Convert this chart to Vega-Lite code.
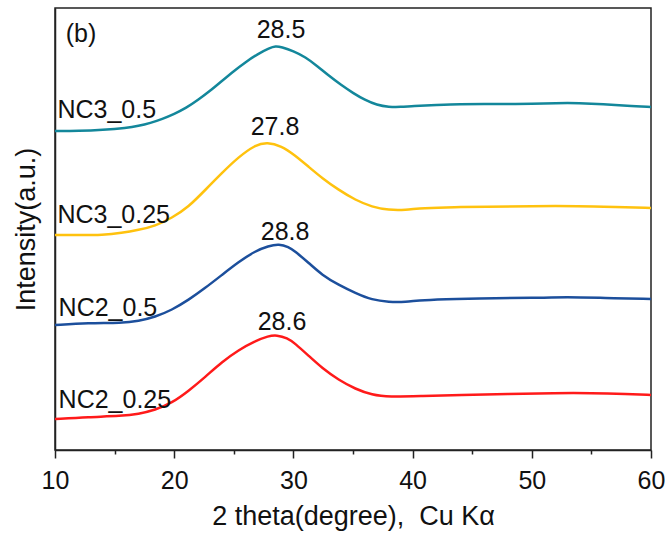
{
  "$schema": "https://vega.github.io/schema/vega-lite/v6.json",
  "width": 596,
  "height": 442,
  "autosize": "none",
  "padding": {"left": 55, "top": 8, "right": 14, "bottom": 89},
  "background": "white",
  "config": {
    "view": {"stroke": "#222", "strokeWidth": 1.5},
    "font": "Liberation Sans"
  },
  "datasets": {
    "curves": [
      {"series": "NC3_0.5", "theta": 10, "intensity": 319},
      {"series": "NC3_0.5", "theta": 12, "intensity": 319},
      {"series": "NC3_0.5", "theta": 14, "intensity": 320},
      {"series": "NC3_0.5", "theta": 16, "intensity": 322},
      {"series": "NC3_0.5", "theta": 17, "intensity": 324},
      {"series": "NC3_0.5", "theta": 18, "intensity": 327},
      {"series": "NC3_0.5", "theta": 19, "intensity": 331},
      {"series": "NC3_0.5", "theta": 20, "intensity": 336},
      {"series": "NC3_0.5", "theta": 21, "intensity": 342},
      {"series": "NC3_0.5", "theta": 22, "intensity": 350},
      {"series": "NC3_0.5", "theta": 23, "intensity": 359},
      {"series": "NC3_0.5", "theta": 24, "intensity": 369},
      {"series": "NC3_0.5", "theta": 25, "intensity": 379},
      {"series": "NC3_0.5", "theta": 26, "intensity": 388},
      {"series": "NC3_0.5", "theta": 27, "intensity": 396},
      {"series": "NC3_0.5", "theta": 28, "intensity": 402},
      {"series": "NC3_0.5", "theta": 28.5, "intensity": 404},
      {"series": "NC3_0.5", "theta": 29, "intensity": 403},
      {"series": "NC3_0.5", "theta": 30, "intensity": 399},
      {"series": "NC3_0.5", "theta": 31, "intensity": 393},
      {"series": "NC3_0.5", "theta": 32, "intensity": 384},
      {"series": "NC3_0.5", "theta": 33, "intensity": 374},
      {"series": "NC3_0.5", "theta": 34, "intensity": 365},
      {"series": "NC3_0.5", "theta": 35, "intensity": 357},
      {"series": "NC3_0.5", "theta": 36, "intensity": 350},
      {"series": "NC3_0.5", "theta": 37, "intensity": 345},
      {"series": "NC3_0.5", "theta": 38, "intensity": 343},
      {"series": "NC3_0.5", "theta": 39, "intensity": 343},
      {"series": "NC3_0.5", "theta": 40, "intensity": 344},
      {"series": "NC3_0.5", "theta": 42, "intensity": 345},
      {"series": "NC3_0.5", "theta": 44, "intensity": 346},
      {"series": "NC3_0.5", "theta": 46, "intensity": 346},
      {"series": "NC3_0.5", "theta": 48, "intensity": 346},
      {"series": "NC3_0.5", "theta": 50, "intensity": 346},
      {"series": "NC3_0.5", "theta": 52, "intensity": 347},
      {"series": "NC3_0.5", "theta": 54, "intensity": 347},
      {"series": "NC3_0.5", "theta": 56, "intensity": 346},
      {"series": "NC3_0.5", "theta": 58, "intensity": 344},
      {"series": "NC3_0.5", "theta": 60, "intensity": 343},

      {"series": "NC3_0.25", "theta": 10, "intensity": 215},
      {"series": "NC3_0.25", "theta": 12, "intensity": 215},
      {"series": "NC3_0.25", "theta": 14, "intensity": 215},
      {"series": "NC3_0.25", "theta": 15.6, "intensity": 217},
      {"series": "NC3_0.25", "theta": 17, "intensity": 220},
      {"series": "NC3_0.25", "theta": 18.4, "intensity": 224},
      {"series": "NC3_0.25", "theta": 19.8, "intensity": 232},
      {"series": "NC3_0.25", "theta": 21.2, "intensity": 243},
      {"series": "NC3_0.25", "theta": 22.6, "intensity": 260},
      {"series": "NC3_0.25", "theta": 24, "intensity": 277},
      {"series": "NC3_0.25", "theta": 25.4, "intensity": 293},
      {"series": "NC3_0.25", "theta": 26.8, "intensity": 305},
      {"series": "NC3_0.25", "theta": 27.8, "intensity": 308},
      {"series": "NC3_0.25", "theta": 29, "intensity": 304},
      {"series": "NC3_0.25", "theta": 30.1, "intensity": 295},
      {"series": "NC3_0.25", "theta": 31.3, "intensity": 283},
      {"series": "NC3_0.25", "theta": 32.4, "intensity": 272},
      {"series": "NC3_0.25", "theta": 33.8, "intensity": 260},
      {"series": "NC3_0.25", "theta": 35.2, "intensity": 250},
      {"series": "NC3_0.25", "theta": 36.6, "intensity": 243},
      {"series": "NC3_0.25", "theta": 38, "intensity": 240},
      {"series": "NC3_0.25", "theta": 39.4, "intensity": 240},
      {"series": "NC3_0.25", "theta": 40.8, "intensity": 242},
      {"series": "NC3_0.25", "theta": 43.6, "intensity": 243},
      {"series": "NC3_0.25", "theta": 46, "intensity": 243},
      {"series": "NC3_0.25", "theta": 50, "intensity": 244},
      {"series": "NC3_0.25", "theta": 54, "intensity": 244},
      {"series": "NC3_0.25", "theta": 57, "intensity": 243},
      {"series": "NC3_0.25", "theta": 60, "intensity": 242},

      {"series": "NC2_0.5", "theta": 10, "intensity": 125},
      {"series": "NC2_0.5", "theta": 12.8, "intensity": 127},
      {"series": "NC2_0.5", "theta": 15.6, "intensity": 127},
      {"series": "NC2_0.5", "theta": 17, "intensity": 129},
      {"series": "NC2_0.5", "theta": 18.4, "intensity": 133},
      {"series": "NC2_0.5", "theta": 19.8, "intensity": 140},
      {"series": "NC2_0.5", "theta": 21.2, "intensity": 150},
      {"series": "NC2_0.5", "theta": 22.6, "intensity": 162},
      {"series": "NC2_0.5", "theta": 24, "intensity": 175},
      {"series": "NC2_0.5", "theta": 25.4, "intensity": 188},
      {"series": "NC2_0.5", "theta": 26.8, "intensity": 199},
      {"series": "NC2_0.5", "theta": 27.9, "intensity": 204},
      {"series": "NC2_0.5", "theta": 28.8, "intensity": 206},
      {"series": "NC2_0.5", "theta": 29.6, "intensity": 203},
      {"series": "NC2_0.5", "theta": 30.1, "intensity": 199},
      {"series": "NC2_0.5", "theta": 31.3, "intensity": 187},
      {"series": "NC2_0.5", "theta": 32.4, "intensity": 175},
      {"series": "NC2_0.5", "theta": 33.8, "intensity": 165},
      {"series": "NC2_0.5", "theta": 35.2, "intensity": 157},
      {"series": "NC2_0.5", "theta": 36.6, "intensity": 150},
      {"series": "NC2_0.5", "theta": 38, "intensity": 148},
      {"series": "NC2_0.5", "theta": 39.4, "intensity": 148},
      {"series": "NC2_0.5", "theta": 40.8, "intensity": 150},
      {"series": "NC2_0.5", "theta": 43.6, "intensity": 151},
      {"series": "NC2_0.5", "theta": 47, "intensity": 152},
      {"series": "NC2_0.5", "theta": 50, "intensity": 152},
      {"series": "NC2_0.5", "theta": 53, "intensity": 153},
      {"series": "NC2_0.5", "theta": 56, "intensity": 152},
      {"series": "NC2_0.5", "theta": 60, "intensity": 151},

      {"series": "NC2_0.25", "theta": 10, "intensity": 31},
      {"series": "NC2_0.25", "theta": 12.8, "intensity": 33},
      {"series": "NC2_0.25", "theta": 15.6, "intensity": 34},
      {"series": "NC2_0.25", "theta": 17, "intensity": 36},
      {"series": "NC2_0.25", "theta": 18.4, "intensity": 40},
      {"series": "NC2_0.25", "theta": 19.8, "intensity": 47},
      {"series": "NC2_0.25", "theta": 21.2, "intensity": 59},
      {"series": "NC2_0.25", "theta": 22.6, "intensity": 73},
      {"series": "NC2_0.25", "theta": 24, "intensity": 88},
      {"series": "NC2_0.25", "theta": 25.4, "intensity": 100},
      {"series": "NC2_0.25", "theta": 26.8, "intensity": 109},
      {"series": "NC2_0.25", "theta": 27.9, "intensity": 114},
      {"series": "NC2_0.25", "theta": 28.6, "intensity": 115},
      {"series": "NC2_0.25", "theta": 29.5, "intensity": 112},
      {"series": "NC2_0.25", "theta": 30.1, "intensity": 107},
      {"series": "NC2_0.25", "theta": 31.3, "intensity": 94},
      {"series": "NC2_0.25", "theta": 32.4, "intensity": 82},
      {"series": "NC2_0.25", "theta": 33.8, "intensity": 70},
      {"series": "NC2_0.25", "theta": 35.2, "intensity": 61},
      {"series": "NC2_0.25", "theta": 36.6, "intensity": 55},
      {"series": "NC2_0.25", "theta": 38, "intensity": 53},
      {"series": "NC2_0.25", "theta": 40.8, "intensity": 54},
      {"series": "NC2_0.25", "theta": 44, "intensity": 55},
      {"series": "NC2_0.25", "theta": 48, "intensity": 56},
      {"series": "NC2_0.25", "theta": 52, "intensity": 57},
      {"series": "NC2_0.25", "theta": 55, "intensity": 57},
      {"series": "NC2_0.25", "theta": 58, "intensity": 56},
      {"series": "NC2_0.25", "theta": 60, "intensity": 55}
    ],
    "names": [
      {"label": "NC3_0.5", "theta": 10.2, "intensity": 340},
      {"label": "NC3_0.25", "theta": 10.2, "intensity": 235},
      {"label": "NC2_0.5", "theta": 10.3, "intensity": 142},
      {"label": "NC2_0.25", "theta": 10.3, "intensity": 50},
      {"label": "(b)", "theta": 10.9, "intensity": 416}
    ],
    "peaks": [
      {"label": "28.5", "theta": 28.96, "intensity": 420},
      {"label": "27.8", "theta": 28.46, "intensity": 323},
      {"label": "28.8", "theta": 29.3, "intensity": 218},
      {"label": "28.6", "theta": 29.04, "intensity": 128}
    ]
  },
  "encoding": {
    "x": {
      "field": "theta",
      "type": "quantitative",
      "scale": {"domain": [10, 60], "nice": false, "zero": false},
      "axis": {
        "title": "2 theta(degree), \u00a0Cu Kα",
        "values": [10, 15, 20, 25, 30, 35, 40, 45, 50, 55, 60],
        "labelExpr": "datum.value % 10 === 0 ? datum.label : ''",
        "tickSize": {"condition": {"test": "datum.value % 10 === 0", "value": 8}, "value": 4},
        "tickColor": "#222",
        "tickWidth": 1.5,
        "domainColor": "#222",
        "domainWidth": 1.5,
        "grid": false,
        "labelFont": "Liberation Sans",
        "labelFontSize": 25,
        "labelColor": "#111",
        "labelPadding": 10,
        "labelFlush": false,
        "titleFont": "Liberation Sans",
        "titleFontSize": 27,
        "titleFontWeight": "normal",
        "titleColor": "#111",
        "titlePadding": 10
      }
    },
    "y": {
      "field": "intensity",
      "type": "quantitative",
      "scale": {"domain": [0, 442], "nice": false},
      "axis": {
        "title": "Intensity(a.u.)",
        "labels": false,
        "ticks": false,
        "grid": false,
        "domainColor": "#222",
        "domainWidth": 1.5,
        "titleFont": "Liberation Sans",
        "titleFontSize": 27,
        "titleFontWeight": "normal",
        "titleColor": "#111",
        "titlePadding": 15
      }
    }
  },
  "layer": [
    {
      "data": {"name": "curves"},
      "mark": {"type": "line", "strokeWidth": 2.5, "interpolate": "basis"},
      "encoding": {
        "color": {
          "field": "series",
          "type": "nominal",
          "scale": {
            "domain": ["NC3_0.5", "NC3_0.25", "NC2_0.5", "NC2_0.25"],
            "range": ["#13879b", "#ffc20e", "#1c4f9c", "#ff1a1a"]
          },
          "legend": null
        }
      }
    },
    {
      "data": {"name": "names"},
      "mark": {"type": "text", "align": "left", "baseline": "middle", "font": "Liberation Sans", "fontSize": 25, "color": "#111"},
      "encoding": {"text": {"field": "label"}}
    },
    {
      "data": {"name": "peaks"},
      "mark": {"type": "text", "align": "center", "baseline": "middle", "font": "Liberation Sans", "fontSize": 25, "color": "#111"},
      "encoding": {"text": {"field": "label"}}
    }
  ]
}
